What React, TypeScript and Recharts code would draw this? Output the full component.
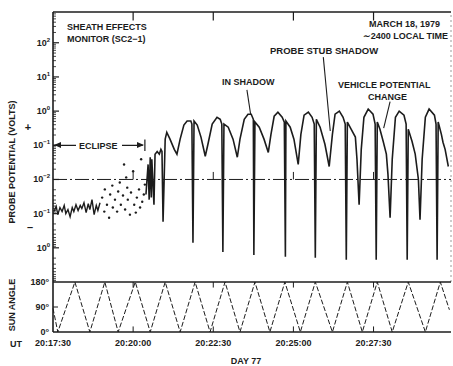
import { ComposedChart, LineChart, Line, Scatter, XAxis, YAxis, ReferenceLine } from "recharts";

// time in seconds after 20:17:30 UT; probe level in signed decades about the 10^-2 V centre line
const probeTime = [
  174, 178, 180, 182, 184, 185, 189, 191, 195, 199, 202, 204, 206, 210, 213, 219, 227, 232, 238, 245,
  251, 258, 260, 262, 264, 270, 277, 285, 290, 298, 307, 313, 316, 318, 320, 328, 337, 345, 350, 358,
  365, 371, 375, 376, 378, 386, 395, 403, 408, 414, 421, 429, 433, 435, 436, 444, 451, 459, 464, 470,
  478, 485, 489, 491, 493, 500, 509, 517, 523, 528, 536, 543, 547, 549, 551, 558, 566, 569, 573, 577,
  582, 590, 599, 603, 605, 607, 612, 618, 624, 627, 631, 635, 641, 648, 657, 661, 663, 665, 672, 678,
  684, 687, 691, 697, 704, 714, 717, 719, 721, 727, 730, 734, 740,
];
const probeLevel = [
  -0.44, 0.44, -0.59, 0.65, -0.53, 0.59, -0.74, 0.74, 0.82, 0.74, 0.88, 0.82, -1.24, 1.18, 1.38, 1.18, 0.88, 0.74, 1.18, 1.59,
  1.71, 1.71, 1.62, -1.85, 1.71, 1.59, 1.24, 0.68, 1.03, 1.62, 1.82, 1.76, 1.62, -2.12, 1.62, 1.53, 1.18, 0.65, 1.18, 1.76,
  1.91, 1.91, 1.76, -2.21, 1.68, 1.53, 1.18, 0.79, 1.32, 1.85, 1.97, 1.82, 1.68, -2.26, 1.71, 1.53, 1.18, 0.44, 1.32, 1.88,
  1.97, 1.82, 1.62, -2.29, 1.76, 1.53, 1.03, 0.38, 1.32, 1.91, 2.0, 1.82, 1.62, -2.35, 1.68, 1.47, 1.24, 0.59, -0.74, 0.88,
  1.82, 2.06, 1.91, 1.62, -2.35, 1.68, 1.47, 1.12, 0.74, 0.15, -1.12, 0.59, 1.82, 2.0, 1.88, 1.62, -2.35, 1.47, 1.12, 0.74,
  0, -1.18, 0.59, 1.82, 2.06, 1.88, 1.62, -2.35, 1.68, 1.32, 1.09, 0.88, 0.38,
];

// eclipse period: noisy trace, then scattered samples
const eclipseTime = [2, 6, 9, 13, 17, 21, 24, 28, 32, 36, 39, 43, 47, 51, 54, 58, 62, 66, 69, 73, 77, 81, 84, 88];
const eclipseLevel = [
  -0.94, -0.79, -1.03, -0.82, -0.94, -0.76, -1.0, -0.88, -1.09, -0.82, -0.94, -0.74, -0.91, -0.76, -0.85, -0.68,
  -0.97, -0.71, -0.88, -0.59, -1.03, -0.76, -0.91, -0.68,
];
const dotTime = [
  92, 96, 97, 101, 105, 107, 111, 112, 116, 120, 122, 125, 127, 131, 133, 135, 137, 139, 140, 144, 146, 150, 152,
  155, 157, 161, 163, 165, 167, 170, 172,
];
const dotLevel = [
  -0.53, -0.94, -0.29, -0.74, -1.12, -0.44, -0.18, -0.82, -0.59, -0.94, -0.35, -0.09, -0.74, -0.47, 0.44, -0.88, 0.06,
  -0.24, -0.59, -1.03, -0.38, 0.24, -0.74, -0.97, -0.53, -0.29, -0.82, 0.59, -0.65, -0.44, -0.15,
];

// sun angle triangle vertices
const sunTime = [
  0, 9, 41, 69, 97, 122, 154, 182, 210, 238, 266, 294, 322, 350, 378, 406, 434, 463, 491, 523, 551, 579, 607, 635,
  665, 697, 725, 742,
];
const sunAngle = [
  85, 0, 180, 0, 180, 0, 180, 0, 180, 0, 180, 0, 180, 0, 180, 0, 180, 0, 180, 0, 180, 0, 180, 0, 180, 0, 180, 80,
];

const timeTicks = [0, 150, 300, 450, 600];
const timeLabels = ["20:17:30", "20:20:00", "20:22:30", "20:25:00", "20:27:30"];
const probeTicks = [4, 3, 2, 1, 0, -1, -2];
const probeExp = ["2", "1", "0", "\u22121", "\u22122", "\u22121", "0"];
const sunTicks = [0, 90, 180];
const sunLabels = ["0\u00b0", "90\u00b0", "180\u00b0"];

const probe = probeTime.map((t, i) => ({ t, u: probeLevel[i] }));
const eclipse = eclipseTime.map((t, i) => ({ t, u: eclipseLevel[i] }));
const dots = dotTime.map((t, i) => ({ t, u: dotLevel[i] }));
const sun = sunTime.map((t, i) => ({ t, a: sunAngle[i] }));

const TOP = 4.9;
const BOTTOM = -3;
const minorTicks: number[] = [];
for (let j = 0; j < 5; j++)
  for (let m = 2; m < 10; m++) {
    const v = j + Math.log10(m);
    if (v < TOP) minorTicks.push(v);
    if (j < 3) minorTicks.push(-v);
  }
const yTicks = [...probeTicks, ...minorTicks];

const L = 53;
const INK = "#1c1c1c";
const FONT = "'Liberation Sans', Arial, sans-serif";
const T_MAX = 745;

const ProbeTick = (props: any) => {
  const { y, payload } = props;
  const i = probeTicks.indexOf(payload.value);
  if (i < 0) return <line x1={L} x2={L + 3} y1={y} y2={y} stroke={INK} strokeWidth={0.8} />;
  return (
    <g>
      <line x1={L} x2={L + 6} y1={y} y2={y} stroke={INK} strokeWidth={1.2} />
      <text x={L - 3} y={y + 3} textAnchor="end" fontSize={9} fontWeight="bold" fill={INK} fontFamily={FONT}>
        10<tspan dy={-4} fontSize={6}>{probeExp[i]}</tspan>
      </text>
    </g>
  );
};

const SunTick = (props: any) => {
  const { y, payload } = props;
  const i = sunTicks.indexOf(payload.value);
  return (
    <g>
      {payload.value === 90 && <line x1={L} x2={L + 5} y1={y} y2={y} stroke={INK} strokeWidth={1} />}
      <text x={L - 4} y={y + 3} textAnchor="end" fontSize={9} fontWeight="bold" fill={INK} fontFamily={FONT}>
        {sunLabels[i]}
      </text>
    </g>
  );
};

// lower chart starts at page y 270, so the labels' baseline 346 is 76 here
const TimeTick = (props: any) => {
  const { x, payload } = props;
  const i = timeTicks.indexOf(payload.value);
  return (
    <text x={x} y={76} textAnchor="middle" fontSize={9} fontWeight="bold" fill={INK} fontFamily={FONT}>
      {timeLabels[i]}
    </text>
  );
};

const txt = { fontSize: 9, fontWeight: "bold" as const, fill: INK, fontFamily: FONT };

export default function App() {
  return (
    <div style={{ position: "absolute", left: 0, top: 0, width: 453, height: 366, background: "#fff", overflow: "hidden" }}>
      <div style={{ position: "absolute", left: 0, top: 0 }}>
        <ComposedChart width={453} height={282} margin={{ top: 12, right: 2, left: 0, bottom: 0 }}>
          <XAxis type="number" dataKey="t" domain={[0, T_MAX]} hide />
          <YAxis
            type="number"
            domain={[BOTTOM, TOP]}
            ticks={yTicks}
            interval={0}
            width={L}
            tickLine={false}
            tick={ProbeTick}
            axisLine={{ stroke: INK, strokeWidth: 1.6 }}
          />
          <ReferenceLine y={TOP} stroke={INK} strokeWidth={1.6} />
          <ReferenceLine x={T_MAX} stroke="#9a9a9a" strokeDasharray="2 3" />
          <ReferenceLine y={0} stroke={INK} strokeWidth={1} strokeDasharray="14 3 2 3" />
          {timeTicks.slice(1).map((t) => (
            <ReferenceLine key={"tt" + t} segment={[{ x: t, y: TOP }, { x: t, y: TOP - 0.25 }]} stroke={INK} strokeWidth={1.2} />
          ))}
          {timeTicks.slice(1).map((t) => (
            <ReferenceLine key={"ct" + t} segment={[{ x: t, y: 0 }, { x: t, y: 0.22 }]} stroke={INK} strokeWidth={1} />
          ))}
          <ReferenceLine segment={[{ x: 0, y: 1 }, { x: 168, y: 1 }]} stroke={INK} strokeWidth={1.2} />
          <ReferenceLine segment={[{ x: 172, y: 0.83 }, { x: 172, y: 1.17 }]} stroke={INK} strokeWidth={1.2} />
          <ReferenceLine segment={[{ x: 363, y: 2.62 }, { x: 370, y: 1.9 }]} stroke={INK} strokeWidth={1.1} />
          <ReferenceLine segment={[{ x: 506, y: 3.58 }, { x: 519, y: 1.42 }]} stroke={INK} strokeWidth={1.1} />
          <ReferenceLine segment={[{ x: 631, y: 2.28 }, { x: 619, y: 1.5 }]} stroke={INK} strokeWidth={1.1} />
          <Line data={eclipse} dataKey="u" type="linear" stroke={INK} strokeWidth={1.4} dot={false} isAnimationActive={false} />
          <Scatter
            data={dots}
            dataKey="u"
            fill={INK}
            isAnimationActive={false}
            shape={(p: any) => <circle cx={p.cx} cy={p.cy} r={1.2} fill={INK} />}
          />
          <Line data={probe} dataKey="u" type="linear" stroke={INK} strokeWidth={1.6} dot={false} isAnimationActive={false} />
        </ComposedChart>
      </div>
      <div style={{ position: "absolute", left: 0, top: 270 }}>
        <LineChart width={453} height={96} margin={{ top: 12, right: 2, left: 0, bottom: 0 }}>
          <XAxis
            type="number"
            dataKey="t"
            domain={[0, T_MAX]}
            ticks={timeTicks}
            interval={0}
            height={34}
            tickLine={false}
            tick={TimeTick}
            axisLine={{ stroke: INK, strokeWidth: 1.6 }}
          />
          <YAxis
            type="number"
            domain={[0, 180]}
            ticks={sunTicks}
            interval={0}
            width={L}
            tickLine={false}
            tick={SunTick}
            axisLine={{ stroke: INK, strokeWidth: 1.6 }}
          />
          <ReferenceLine y={180} stroke={INK} strokeWidth={1.6} />
          {timeTicks.slice(1).map((t) => (
            <ReferenceLine key={"st" + t} segment={[{ x: t, y: 180 }, { x: t, y: 160 }]} stroke={INK} strokeWidth={1} />
          ))}
          {timeTicks.slice(1).map((t) => (
            <ReferenceLine key={"sb" + t} segment={[{ x: t, y: 0 }, { x: t, y: 20 }]} stroke={INK} strokeWidth={1} />
          ))}
          <Line data={sun} dataKey="a" type="linear" stroke={INK} strokeWidth={1} strokeDasharray="5 2" dot={false} isAnimationActive={false} />
        </LineChart>
      </div>
      <svg width={453} height={366} style={{ position: "absolute", left: 0, top: 0, pointerEvents: "none" }}>
        <text x={67} y={30} {...txt}>SHEATH EFFECTS</text>
        <text x={67} y={42} {...txt}>MONITOR (SC2{"\u2212"}1)</text>
        <text x={440} y={27} textAnchor="end" {...txt}>MARCH 18, 1979</text>
        <text x={448} y={39} textAnchor="end" {...txt}>{"\u223c"}2400 LOCAL TIME</text>
        <text x={270} y={54} {...txt} fontSize={9.5}>PROBE STUB SHADOW</text>
        <text x={222} y={85} {...txt}>IN SHADOW</text>
        <text x={338} y={88} {...txt}>VEHICLE POTENTIAL</text>
        <text x={368} y={100} {...txt}>CHANGE</text>
        <rect x={76} y={139} width={46} height={12} fill="#fff" />
        <text x={79} y={149} {...txt}>ECLIPSE</text>
        <polygon points="54,145 61,142 61,148" fill={INK} />
        <polygon points="144,145 137,142 137,148" fill={INK} />
        <text x={12} y={162} transform="rotate(-90 12 162)" textAnchor="middle" dominantBaseline="central" {...txt}>
          PROBE POTENTIAL (VOLTS)
        </text>
        <text x={28} y={131} textAnchor="middle" {...txt} fontSize={11}>+</text>
        <text x={30} y={231} textAnchor="middle" {...txt} fontSize={11}>{"\u2013"}</text>
        <text x={12} y={305} transform="rotate(-90 12 305)" textAnchor="middle" dominantBaseline="central" {...txt}>
          SUN ANGLE
        </text>
        <text x={10} y={347} {...txt}>UT</text>
        <text x={246} y={364} textAnchor="middle" {...txt}>DAY 77</text>
      </svg>
    </div>
  );
}
